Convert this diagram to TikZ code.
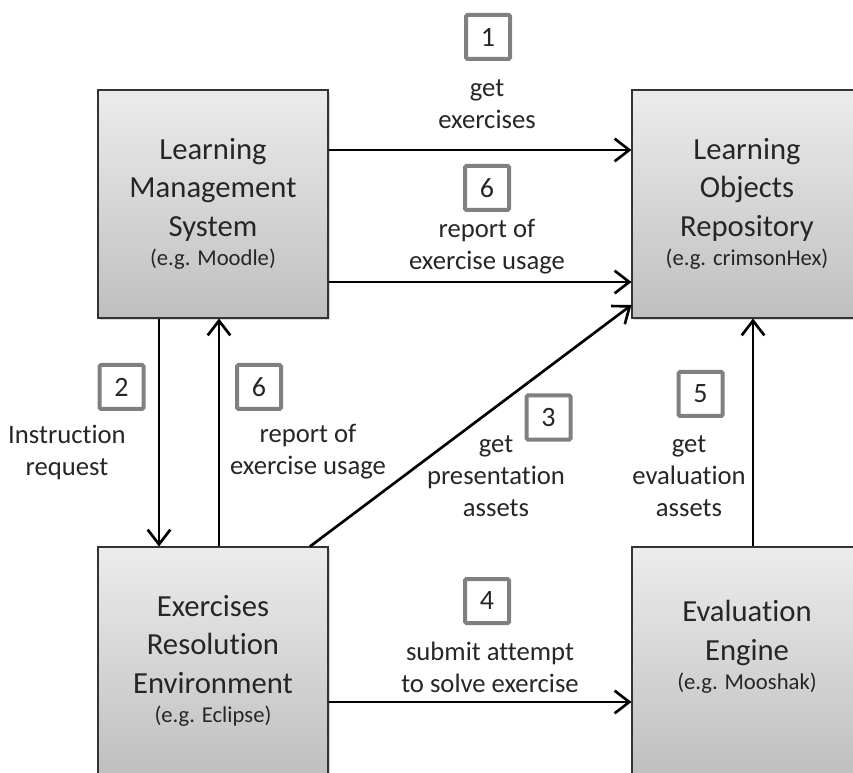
\documentclass[tikz,border=0pt]{standalone}
\usepackage{fontspec}
\setmainfont{Carlito}[Ligatures=NoCommon]
\usetikzlibrary{arrows.meta,shadows}
\newcommand\egfont{\fontsize{17}{21}\selectfont}

\begin{document}
\begin{tikzpicture}[x=0.75pt, y=-0.75pt, draw=black,
  box/.style={draw=black!80, line width=0.8pt, top color=gray!15, bottom color=gray!50,
    minimum width=172.5pt, minimum height=171pt, inner sep=0pt, align=center,
    text=black!85, font=\fontsize{23}{29}\selectfont,
    drop shadow={shadow xshift=1.5pt, shadow yshift=-1.5pt, opacity=0.3}},
  num/.style={draw=gray, line width=3pt, fill=white, minimum size=33pt,
    inner sep=0pt, rounded corners=1pt, text=black!85, font=\fontsize{21}{25}\selectfont},
  lab/.style={align=center, text=black!85, font=\fontsize{20}{24}\selectfont},
  flow/.style={line width=2pt, -{Straight Barb[length=11pt,width=17pt]}}]

\useasboundingbox (0,0) rectangle (853,773);

% the four systems
\node[box] (lms) at (213,204) {Learning\\Management\\System\\[-7pt]{\egfont (e.g. Moodle)}};
\node[box] (lor) at (747,204) {Learning\\Objects\\Repository\\[-7pt]{\egfont (e.g. crimsonHex)}};
\node[box] (ere) at (213,661) {Exercises\\Resolution\\Environment\\[-7pt]{\egfont (e.g. Eclipse)}};
\node[box, text depth=24pt] (ee) at (747,661) {Evaluation\\Engine\\[-7pt]{\egfont (e.g. Mooshak)}};

% flows
\draw[flow] ([yshift=40.5pt]lms.east) -- ([yshift=40.5pt]lor.west);
\draw[flow] ([yshift=-58.5pt]lms.east) -- ([yshift=-58.5pt]lor.west);
\draw[flow] ([xshift=-40.5pt]lms.south) -- ([xshift=-40.5pt]ere.north);
\draw[flow] ([xshift=4.5pt]ere.north) -- ([xshift=4.5pt]lms.south);
\draw[flow] ([xshift=72.75pt]ere.north) -- ([yshift=-75.75pt]lor.west);
\draw[flow] ([xshift=4.5pt]ee.north) -- ([xshift=4.5pt]lor.south);
\draw[flow] ([yshift=-30.75pt]ere.east) -- ([yshift=-30.75pt]ee.west);

% step numbers and labels
\node[num] (n1) at (488,37) {1};
\node[lab] (l1) at (487,104) {get\\exercises};
\node[num] (n6a) at (487,188) {6};
\node[lab] (l6a) at (487,247) {report of\\exercise usage};
\node[num] (n2) at (121.5,387) {2};
\node[lab] (l2) at (67,452) {Instruction\\request};
\node[num] (n6b) at (259,387) {6};
\node[lab] (l6b) at (308,452) {report of\\exercise usage};
\node[num] (n3) at (548.5,417.5) {3};
\node[lab] (l3) at (496,476) {get\\presentation\\assets};
\node[num] (n5) at (700.5,394) {5};
\node[lab] (l5) at (689,476) {get\\evaluation\\assets};
\node[num] (n4) at (487,601) {4};
\node[lab] (l4) at (490,667) {submit attempt\\to solve exercise};
\end{tikzpicture}
\end{document}
